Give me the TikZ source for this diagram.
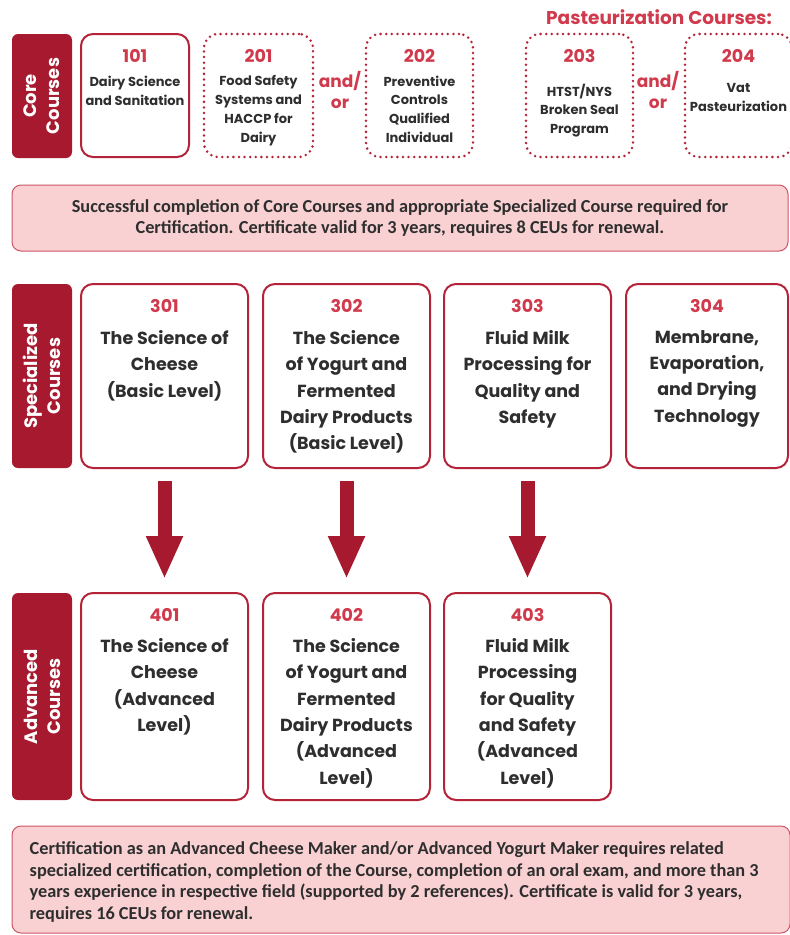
\documentclass[tikz,border=0pt]{standalone}
\usepackage{fontspec}
\setmainfont{Poppins}
\newfontfamily\notefont{Carlito}
\usetikzlibrary{arrows.meta,positioning}

\definecolor{labelred}{HTML}{A6192E}
\definecolor{numred}{HTML}{D03A4C}
\definecolor{boxred}{HTML}{B52338}
\definecolor{textdark}{HTML}{2E2E2E}
\definecolor{notefill}{HTML}{F9D1D3}
\definecolor{noteline}{HTML}{CC5566}

\tikzset{
  rowlabel/.style={fill=labelred, rounded corners=6, rotate=90, inner sep=0,
    align=center, text=white, font=\bfseries\fontsize{18}{23}\selectfont},
  solidbox/.style={draw=boxred, line width=2, rounded corners=12, inner sep=0},
  dotbox/.style={draw=boxred, line width=2.8, rounded corners=14, inner sep=0,
    dash pattern=on 0pt off 5.6pt, line cap=round},
  coursenum/.style={text=numred, inner sep=0, font=\bfseries\fontsize{17.5}{20}\selectfont},
  smalltext/.style={anchor=north, inner sep=0, align=center, text=textdark,
    font=\bfseries\fontsize{13}{18.7}\selectfont},
  bigtext/.style={anchor=north, inner sep=0, align=center, text=textdark,
    font=\bfseries\fontsize{17.5}{26.4}\selectfont},
  andor/.style={inner sep=0, align=center, text=numred,
    font=\bfseries\fontsize{17}{21}\selectfont},
  notebox/.style={fill=notefill, draw=noteline, line width=1, rounded corners=9, inner sep=0},
  notetext/.style={inner sep=0, text=textdark, font=\notefont\bfseries\fontsize{18.3}{21.7}\selectfont},
  downarrow/.style={draw=labelred, line width=14, shorten <=12, shorten >=13,
    -{Triangle[width=34pt,length=43pt]}}
}

\begin{document}
\begin{tikzpicture}[x=1pt,y=-1pt]
  \useasboundingbox (0,0) rectangle (790,935);
  \clip (0,0) rectangle (790,935);

  % Core courses row
  \node[rowlabel, minimum width=124, minimum height=60] (core) at (42,96) {Core\\Courses};
  \node[solidbox, minimum width=108, minimum height=123] (c101) at (135,95.5) {};
  \node[dotbox, minimum width=109, minimum height=123] (c201) at (258.5,95.5) {};
  \node[dotbox, minimum width=107, minimum height=123] (c202) at (419.5,95.5) {};
  \node[dotbox, minimum width=107, minimum height=123] (c203) at (579.5,95.5) {};
  \node[dotbox, minimum width=107, minimum height=123] (c204) at (738.5,95.5) {};

  \node[coursenum] (n101) at ([yshift=-23]c101.north) {101};
  \node[coursenum] (n201) at ([yshift=-23]c201.north) {201};
  \node[coursenum] (n202) at ([yshift=-23]c202.north) {202};
  \node[coursenum] (n203) at ([yshift=-23]c203.north) {203};
  \node[coursenum] (n204) at ([yshift=-23]c204.north) {204};

  \node[smalltext] (t101) at ([yshift=-43]c101.north) {Dairy Science\\and Sanitation};
  \node[smalltext] (t201) at ([yshift=-43]c201.north) {Food Safety\\Systems and\\HACCP for\\Dairy};
  \node[smalltext] (t202) at ([yshift=-43]c202.north) {Preventive\\Controls\\Qualified\\Individual};
  \node[smalltext] (t203) at ([yshift=-51]c203.north) {HTST/NYS\\Broken Seal\\Program};
  \node[smalltext] (t204) at ([yshift=-51]c204.north) {Vat\\Pasteurization};

  \node[andor] (or1) at (340,90) {and/\\or};
  \node[andor] (or2) at (658,90) {and/\\or};
  \node[andor, font=\bfseries\fontsize{18.5}{21}\selectfont] (pasteur) at (659,17) {Pasteurization Courses:};

  % Note on core certification
  \node[notebox, minimum width=776, minimum height=66] (note1) at (400,218) {};
  \node[notetext, align=center] (note1t) at (note1.center)
    {Successful completion of Core Courses and appropriate Specialized Course required for\\
     Certification. Certificate valid for 3 years, requires 8 CEUs for renewal.};

  % Specialized courses row
  \node[rowlabel, minimum width=184, minimum height=60] (spec) at (42,376) {Specialized\\Courses};
  \node[solidbox, minimum width=167, minimum height=184] (s301) at (164.5,376) {};
  \node[solidbox, minimum width=167, minimum height=184] (s302) at (346.5,376) {};
  \node[solidbox, minimum width=167, minimum height=184] (s303) at (527.5,376) {};
  \node[solidbox, minimum width=162, minimum height=184] (s304) at (707,376) {};

  \node[coursenum] (n301) at ([yshift=-23]s301.north) {301};
  \node[coursenum] (n302) at ([yshift=-23]s302.north) {302};
  \node[coursenum] (n303) at ([yshift=-23]s303.north) {303};
  \node[coursenum] (n304) at ([yshift=-23]s304.north) {304};

  \node[bigtext] (t301) at ([yshift=-47]s301.north) {The Science of\\Cheese\\(Basic Level)};
  \node[bigtext] (t302) at ([yshift=-47]s302.north) {The Science\\of Yogurt and\\Fermented\\Dairy Products\\(Basic Level)};
  \node[bigtext] (t303) at ([yshift=-47]s303.north) {Fluid Milk\\Processing for\\Quality and\\Safety};
  \node[bigtext] (t304) at ([yshift=-47]s304.north) {Membrane,\\Evaporation,\\and Drying\\Technology};

  % Advanced courses row
  \node[rowlabel, minimum width=207, minimum height=60] (adv) at (42,696.5) {Advanced\\Courses};
  \node[solidbox, minimum width=167, minimum height=207] (a401) at (164.5,696.5) {};
  \node[solidbox, minimum width=167, minimum height=207] (a402) at (346.5,696.5) {};
  \node[solidbox, minimum width=167, minimum height=207] (a403) at (527.5,696.5) {};

  \node[coursenum] (n401) at ([yshift=-23]a401.north) {401};
  \node[coursenum] (n402) at ([yshift=-23]a402.north) {402};
  \node[coursenum] (n403) at ([yshift=-23]a403.north) {403};

  \node[bigtext] (t401) at ([yshift=-46]a401.north) {The Science of\\Cheese\\(Advanced\\Level)};
  \node[bigtext] (t402) at ([yshift=-46]a402.north) {The Science\\of Yogurt and\\Fermented\\Dairy Products\\(Advanced\\Level)};
  \node[bigtext] (t403) at ([yshift=-46]a403.north) {Fluid Milk\\Processing\\for Quality\\and Safety\\(Advanced\\Level)};

  % Arrows from specialized to advanced
  \draw[downarrow] (s301) -- (a401);
  \draw[downarrow] (s302) -- (a402);
  \draw[downarrow] (s303) -- (a403);

  % Note on advanced certification
  \node[notebox, minimum width=778, minimum height=107] (note2) at (401,879.5) {};
  \node[notetext, anchor=north west, align=left] (note2t) at ([xshift=18,yshift=-16]note2.north west)
    {Certification as an Advanced Cheese Maker and/or Advanced Yogurt Maker requires related\\
     specialized certification, completion of the Course, completion of an oral exam, and more than 3\\
     years experience in respective field (supported by 2 references). Certificate is valid for 3 years,\\
     requires 16 CEUs for renewal.};
\end{tikzpicture}
\end{document}
